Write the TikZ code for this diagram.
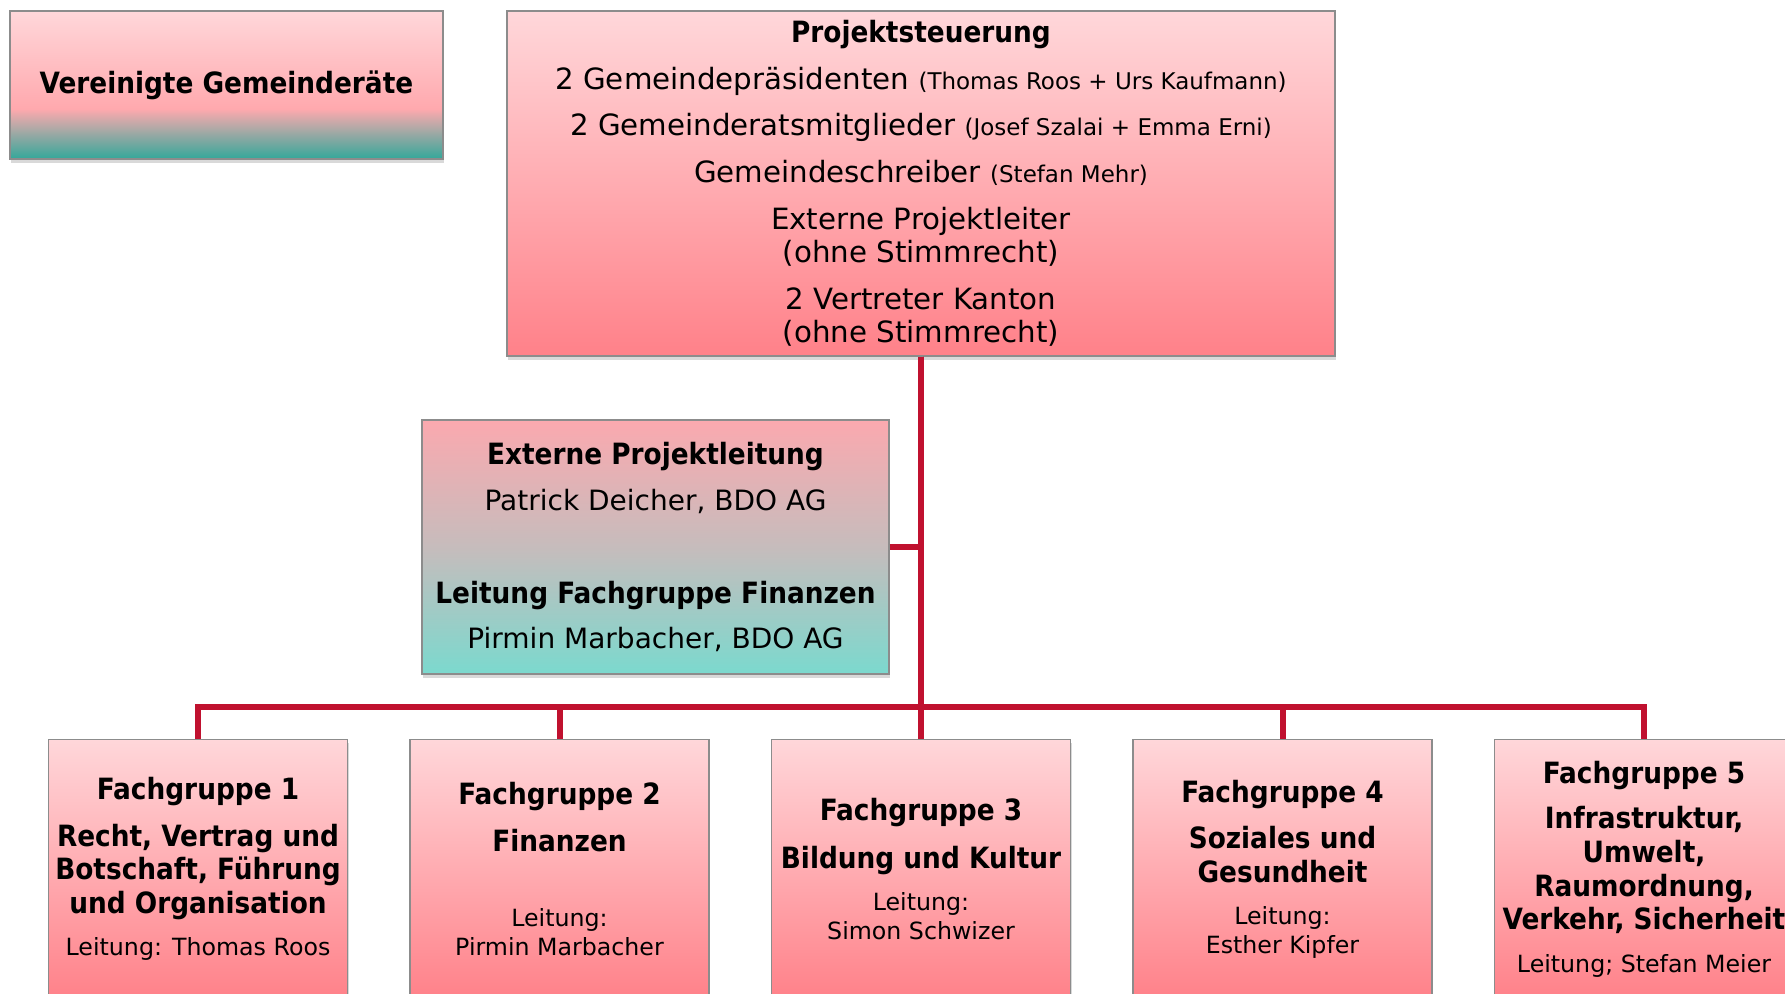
\documentclass[tikz,border=0pt]{standalone}
\usepackage{fontspec}
\setmainfont{DejaVu Sans}[BoldFont={DejaVu Sans Condensed Bold}]
\usetikzlibrary{trees,shadows}

\definecolor{pinktop}{HTML}{FFD7DA}
\definecolor{pinkbot}{HTML}{FF8189}
\definecolor{pinkmid}{HTML}{FFA9AE}
\definecolor{tealdark}{HTML}{33A89A}
\definecolor{teallight}{HTML}{7BD9CE}
\definecolor{greymid}{HTML}{C6BCBC}
\definecolor{pinkext}{HTML}{FBA9AF}
\definecolor{linkred}{HTML}{C0112F}
\definecolor{boxline}{HTML}{8C8C8C}

\pgfdeclareverticalshading{gemshade}{100bp}{color(0bp)=(tealdark); color(25bp)=(tealdark); color(42bp)=(pinkmid); color(75bp)=(pinktop); color(100bp)=(pinktop)}
\pgfdeclareverticalshading{extshade}{100bp}{color(0bp)=(teallight); color(25bp)=(teallight); color(50bp)=(greymid); color(75bp)=(pinkext); color(100bp)=(pinkext)}

\newcommand{\txtmain}{\fontsize{29.3}{33.6}\selectfont}
\newcommand{\txtext}{\fontsize{28}{33.6}\selectfont}
\newcommand{\txtsmall}{\fontsize{23.7}{28.6}\selectfont}
\newcommand{\txtparen}{\fontsize{23}{26}\selectfont}

\begin{document}
\begin{tikzpicture}[x=1pt, y=1pt,
  box/.style={draw=boxline, line width=1.2pt, inner sep=0pt, align=center,
    drop shadow={shadow xshift=1pt, shadow yshift=-4pt, opacity=0.15, fill=black}},
  pinkbox/.style={box, top color=pinktop, bottom color=pinkbot},
  level distance=555pt, sibling distance=361.5pt,
  every child node/.style={pinkbox, anchor=north, minimum width=299pt,
    minimum height=260pt, font=\txtmain},
  edge from parent/.style={draw=linkred, line width=6pt},
  edge from parent path={(\tikzparentnode.south) -- ++(0,-350) -| (\tikzchildnode.north)}]
  \useasboundingbox (0,0) rectangle (1785,-993);
  \clip (0,0) rectangle (1785,-993);

  \node[box, shading=gemshade, minimum width=433pt, minimum height=148pt,
    font=\txtmain\bfseries] (gemrat) at (226.5,-85) {Vereinigte Gemeinderäte};

  \node[box, shading=extshade, minimum width=467pt, minimum height=254pt,
    font=\txtmain] (extern) at (655.5,-547) {%
    {\bfseries Externe Projektleitung}\\[13pt]
    {\txtext Patrick Deicher, BDO AG}\\[59pt]
    {\bfseries Leitung Fachgruppe Finanzen}\\[12pt]
    {\txtext Pirmin Marbacher, BDO AG}};

  \node[pinkbox, minimum width=828pt, minimum height=345pt, font=\txtmain]
    (steuer) at (921,-183.5) {%
    {\bfseries Projektsteuerung}\\[13pt]
    2 Gemeindepräsidenten {\txtparen(Thomas Roos + Urs Kaufmann)}\\[13pt]
    2 Gemeinderatsmitglieder {\txtparen(Josef Szalai + Emma Erni)}\\[13pt]
    Gemeindeschreiber {\txtparen(Stefan Mehr)}\\[13pt]
    Externe Projektleiter\\(ohne Stimmrecht)\\[13pt]
    2 Vertreter Kanton\\(ohne Stimmrecht)}
    child {node (fg1) {%
      {\bfseries Fachgruppe 1}\\[13pt]
      {\bfseries Recht, Vertrag und}\\
      {\bfseries Botschaft, Führung}\\
      {\bfseries und Organisation}\\[9pt]
      {\txtsmall Leitung: Thomas Roos}}}
    child {node (fg2) {%
      {\bfseries Fachgruppe 2}\\[13pt]
      {\bfseries Finanzen}\\[42pt]
      {\txtsmall Leitung:}\\[-5pt]
      {\txtsmall Pirmin Marbacher}}}
    child {node (fg3) {%
      {\bfseries Fachgruppe 3}\\[14pt]
      {\bfseries Bildung und Kultur}\\[9pt]
      {\txtsmall Leitung:}\\[-5pt]
      {\txtsmall Simon Schwizer}}}
    child {node (fg4) {%
      {\bfseries Fachgruppe 4}\\[13pt]
      {\bfseries Soziales und}\\
      {\bfseries Gesundheit}\\[9pt]
      {\txtsmall Leitung:}\\[-5pt]
      {\txtsmall Esther Kipfer}}}
    child {node (fg5) {%
      {\bfseries Fachgruppe 5}\\[12pt]
      {\bfseries Infrastruktur,}\\
      {\bfseries Umwelt,}\\
      {\bfseries Raumordnung,}\\
      {\bfseries Verkehr, Sicherheit}\\[9pt]
      {\txtsmall Leitung; Stefan Meier}}};

  \draw[linkred, line width=6pt] (extern.east) -- (extern.east -| steuer.south);
\end{tikzpicture}
\end{document}
